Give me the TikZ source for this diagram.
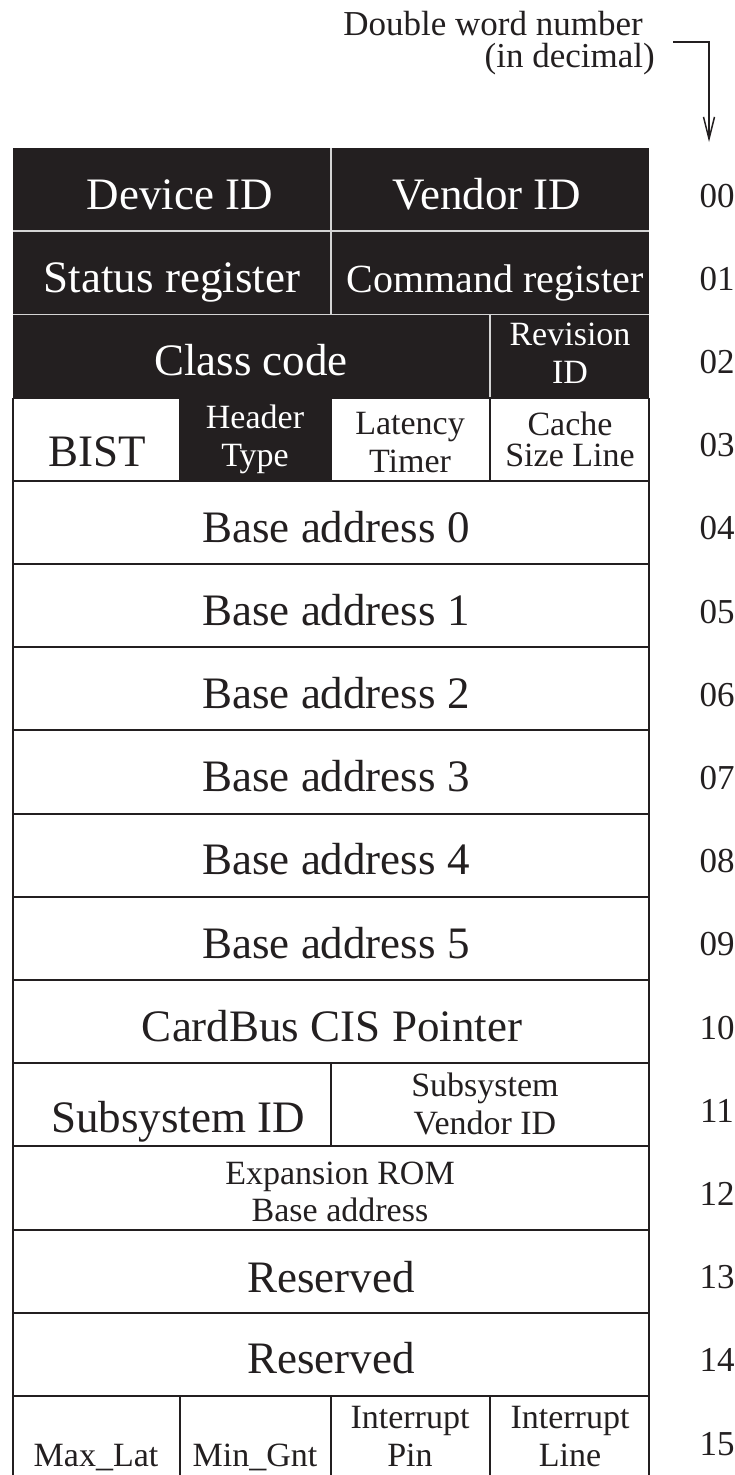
\documentclass[tikz,border=0pt]{standalone}
\usepackage{fontspec}
\setmainfont{Liberation Serif}
\usepackage{xcolor}
\usetikzlibrary{arrows.meta}
\definecolor{ink}{HTML}{231F20}
\definecolor{rule}{HTML}{D4D4D4}
\tikzset{
  grid/.style={draw=ink, line width=2pt},
  sep/.style={draw=rule, line width=1.5pt},
  big/.style={font=\fontsize{45}{50}\selectfont, anchor=base, inner sep=0pt, text=ink},
  mid/.style={font=\fontsize{40}{44}\selectfont, anchor=base, inner sep=0pt, text=ink},
  small/.style={font=\fontsize{34}{38}\selectfont, align=center, anchor=base, inner sep=0pt, text=ink},
  inv/.style={text=white},
  num/.style={font=\fontsize{35}{38}\selectfont, anchor=base, inner sep=0pt, text=ink},
  arr/.style={draw=ink, line width=1.5pt, -{Straight Barb[length=22pt,width=11pt]}},
}

\begin{document}
\begin{tikzpicture}[x=1pt,y=-1pt]
  \useasboundingbox (0,0) rectangle (735,1475);
  \def\xL{13}\def\xA{180}\def\xM{331}\def\xB{490}\def\xR{649}
  % dark part of the header
  \fill[ink] (\xL,148) rectangle (\xR,397.6);
  \fill[ink] (\xA,397.6) rectangle (\xM,480.8);
  \draw[sep] (\xL,231.2) -- (\xR,231.2) (\xL,314.4) -- (\xR,314.4);
  \draw[sep] (\xM,148) -- (\xM,314.4) (\xB,314.4) -- (\xB,397.6);
  % white rows
  \draw[grid] (\xL,397.6) -- (\xL,1480) (\xR,397.6) -- (\xR,1480);
  \foreach \k in {3,...,15}
    \draw[grid] (\xL,{148+83.2*\k}) -- (\xR,{148+83.2*\k});
  \draw[grid] (\xA,397.6) -- (\xA,480.8) (\xM,397.6) -- (\xM,480.8) (\xB,397.6) -- (\xB,480.8);
  \draw[grid] (\xM,1063.2) -- (\xM,1146.4);
  \draw[grid] (\xA,1396) -- (\xA,1480) (\xM,1396) -- (\xM,1480) (\xB,1396) -- (\xB,1480);

  \node[big,inv] (devid) at (180,209) {Device ID};
  \node[big,inv] (venid) at (487,209) {Vendor ID};
  \node[big,inv] (status) at (172,292) {Status register};
  \node[mid,inv] (command) at (495,292) {Command register};
  \node[big,inv] (class) at (251,375) {Class code};
  \node[small,inv] (rev) at (570,383) {Revision\\ID};
  \node[big] (bist) at (97,466) {BIST};
  \node[small,inv] (hdr) at (255,466) {Header\\Type};
  \node[small] (lat) at (410,472) {Latency\\Timer};
  \node[small] (cache) at (570,466) {Cache\\[-7pt]Size Line};
  \foreach \i in {0,...,5}
    \node[big] (ba\i) at (336,{542+83.2*\i}) {Base address \i};
  \node[big] (cis) at (332,1041) {CardBus CIS Pointer};
  \node[big] (ssid) at (178,1132) {Subsystem ID};
  \node[small] (ssvid) at (485,1134) {Subsystem\\Vendor ID};
  \node[small] (rom) at (340,1221) {Expansion ROM\\[-1pt]Base address};
  \node[big] (res13) at (331,1292) {Reserved};
  \node[big] (res14) at (331,1373) {Reserved};
  \node[small] (maxlat) at (96,1466) {Max\_Lat};
  \node[small] (mingnt) at (255,1466) {Min\_Gnt};
  \node[small] (intpin) at (410,1466) {Interrupt\\Pin};
  \node[small] (intline) at (570,1466) {Interrupt\\Line};

  % double word numbers
  \foreach \n [count=\k from 0] in {00,01,02,03,04,05,06,07,08,09,10,11,12,13,14,15}
    \node[num] (n\n) at (717,{207+83.2*\k}) {\n};

  \node[num,anchor=base east] (dw) at (643,35) {Double word number};
  \node[num,anchor=base east] (dec) at (655,67) {(in decimal)};
  \coordinate (a0) at (673,42);
  \coordinate (a1) at (709,42);
  \coordinate (a2) at (709,142);
  \draw[arr] (a0) -- (a1) -- (a2);
\end{tikzpicture}
\end{document}
